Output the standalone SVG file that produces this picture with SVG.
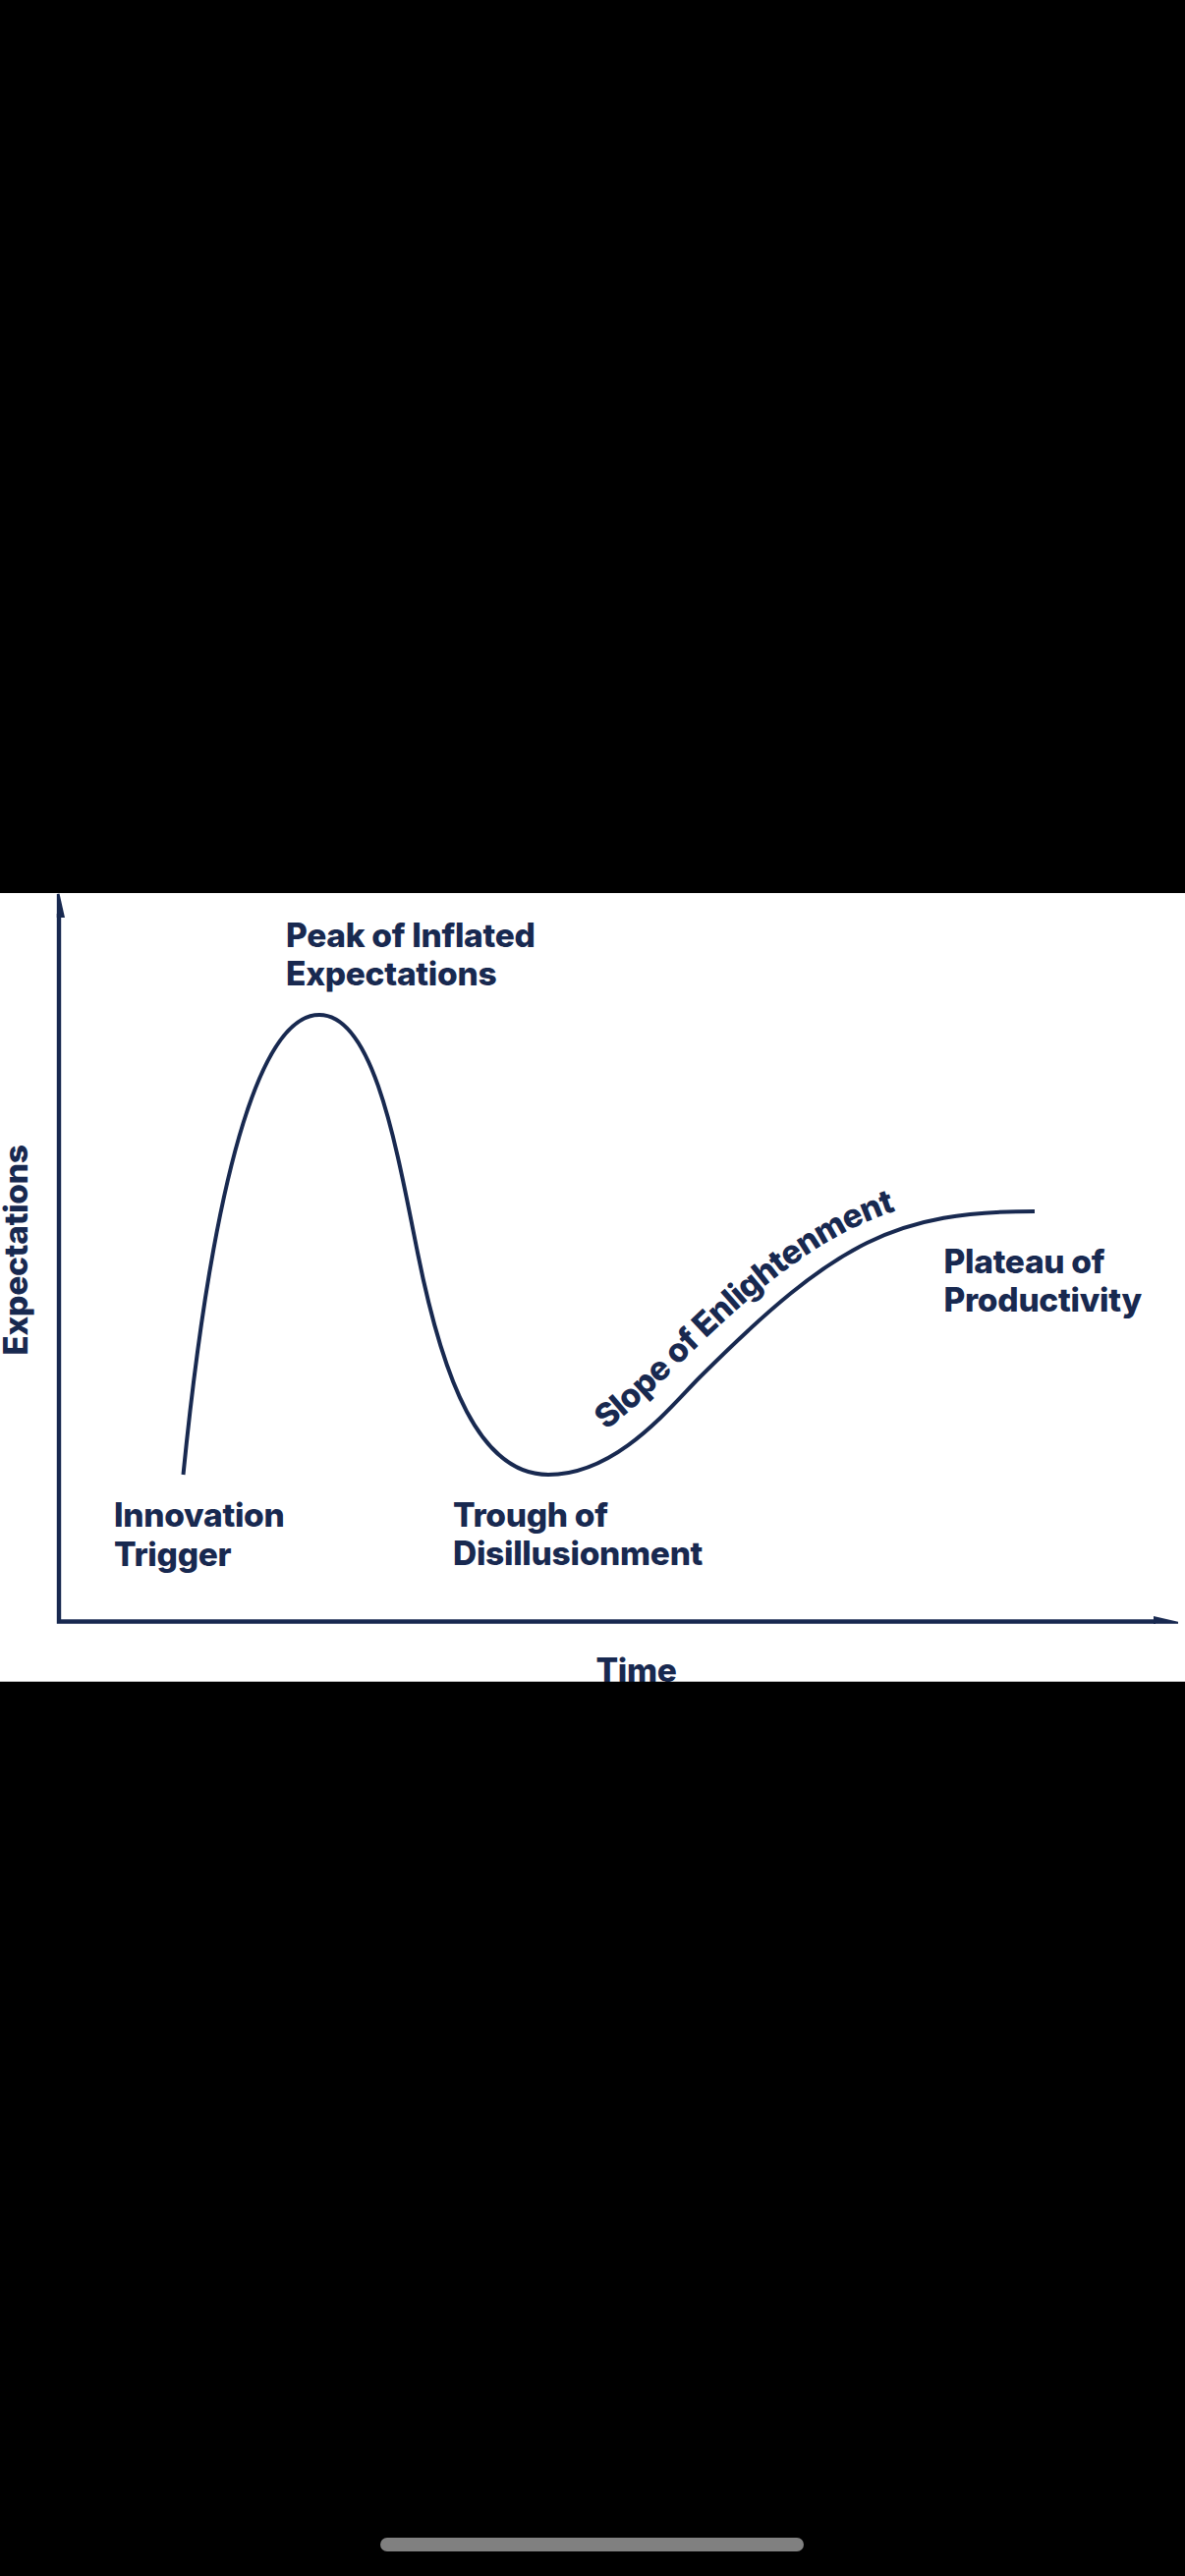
<svg xmlns="http://www.w3.org/2000/svg" width="1206" height="2622" viewBox="0 0 1206 2622">
<style>
.lbl{font-family:Inter,"Liberation Sans",Arial,sans-serif;font-weight:800;font-size:33.5px;fill:#182950;letter-spacing:-0.3px}
.tight{letter-spacing:-0.6px}
.ln{fill:none;stroke:#182950;stroke-width:4}
.ax{fill:none;stroke:#182950;stroke-width:4.4;stroke-linejoin:miter}
.ah{fill:#182950}
</style>
<defs>
<path id="slopePath" d="M617,1456 C640,1438 671,1410 695,1385 C835.7,1245.7 913,1214 1053,1214"/>
</defs>
<rect width="1206" height="2622" fill="#000"/>
<rect y="909" width="1206" height="803" fill="#fff"/>
<g id="axes">
<path class="ax" d="M60,930 V1650.5 H1176"/>
<polygon class="ah" points="57.8,934 57.8,910 60.5,909.5 66,934"/>
<polygon class="ah" points="1174,1652.7 1174,1645 1199,1650.8 1199,1652.7"/>
</g>
<g id="connectors">
<path id="hype-curve" class="ln" d="M186.5,1501 C219.5,1171 270,1033 325,1033 C380,1033 403,1165 425,1275 C451,1405 488,1501 558,1501 C628,1501 682,1432 712,1402 C852,1262 913,1233 1053,1233"/>
</g>
<g id="y-axis-label"><text class="lbl" text-anchor="middle" transform="translate(28,1272.5) rotate(-90)">Expectations</text></g>
<g id="peak"><text class="lbl" x="291" y="964">Peak of Inflated</text><text class="lbl" x="291" y="1003">Expectations</text></g>
<g id="innovation-trigger"><text class="lbl" x="116" y="1554">Innovation</text><text class="lbl" x="116" y="1594">Trigger</text></g>
<g id="trough"><text class="lbl" x="461" y="1554">Trough of</text><text class="lbl" x="461" y="1593">Disillusionment</text></g>
<g id="slope"><text class="lbl tight"><textPath href="#slopePath" startOffset="0">Slope of Enlightenment</textPath></text></g>
<g id="plateau"><text class="lbl" x="960.5" y="1296">Plateau of</text><text class="lbl" x="960.5" y="1335">Productivity</text></g>
<g id="x-axis-label"><text class="lbl" x="606.5" y="1712">Time</text></g>
<rect y="1711.7" width="1206" height="910.3" fill="#000"/>
<rect id="home-indicator" x="387" y="2583" width="431" height="14" rx="7" fill="#808080"/>
</svg>
